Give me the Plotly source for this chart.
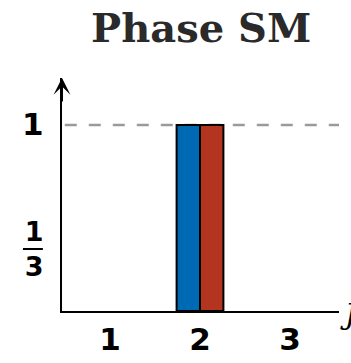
import plotly.graph_objects as go

# Occupation probabilities per level for the two components
levels = [1, 2, 3]
blue_vals = [0, 1, 0]
red_vals = [0, 1, 0]
ytick_vals = [1 / 3, 1]
ytick_text = ["<b>1</b><br><b>3</b>", "<b><span style='font-size:31px'>1</span></b>"]
xtick_text = ["<b>1</b>", "<b>2</b>", "<b>3</b>"]
title_text = "<b>Phase SM</b>"
x_label = "<i>J</i>"

y_top = 1.253


def outline(vals):
    # only outline bars that have height
    return [2 if v else 0 for v in vals]


fig = go.Figure()
fig.add_trace(go.Bar(
    x=levels, y=blue_vals,
    marker=dict(color="#0069B4", line=dict(color="black", width=outline(blue_vals))),
    showlegend=False,
))
fig.add_trace(go.Bar(
    x=levels, y=red_vals,
    marker=dict(color="#B3341F", line=dict(color="black", width=outline(red_vals))),
    showlegend=False,
))

# dashed reference level at 1
fig.add_shape(type="line", xref="paper", x0=0.01, x1=1, yref="y", y0=1, y1=1,
              line=dict(color="#9a9a9a", width=2.5, dash="12px,12px"), layer="below")
# fraction bar for the 1/3 tick
fig.add_shape(type="line", xref="paper", x0=-0.141, x1=-0.069, yref="y",
              y0=1 / 3, y1=1 / 3, line=dict(color="black", width=2))

# arrowhead on the vertical axis
fig.add_annotation(x=0, xref="paper", y=y_top, yref="y", text="", showarrow=True,
                   ax=0, ay=25, axref="pixel", ayref="pixel",
                   arrowhead=3, arrowsize=1.4, arrowwidth=2, arrowcolor="black")
# horizontal axis label
fig.add_annotation(x=1, xref="paper", y=0, yref="y", text=x_label, showarrow=False,
                   xanchor="left", yanchor="top", xshift=-1, yshift=15,
                   font=dict(family="DejaVu Serif", size=28, color="black"))

fig.update_layout(
    width=351, height=363,
    margin=dict(l=62, r=12, t=78, b=52, autoexpand=False),
    paper_bgcolor="white", plot_bgcolor="white",
    barmode="group", bargap=0.48, bargroupgap=0,
    title=dict(text=title_text, x=0.573, xanchor="center", y=0.962, yanchor="top",
               font=dict(family="DejaVu Serif", size=40, color="#2a2a2a")),
    xaxis=dict(range=[0.467, 3.544], tickvals=levels, ticktext=xtick_text,
               showgrid=False, zeroline=False, showline=True, linecolor="black",
               linewidth=2, ticks="", automargin=False,
               tickfont=dict(family="DejaVu Sans", size=31, color="black")),
    yaxis=dict(range=[0, y_top], tickvals=ytick_vals, ticktext=ytick_text,
               showgrid=False, zeroline=False, showline=True, linecolor="black",
               linewidth=2, ticks="", ticklabelstandoff=11, automargin=False,
               tickfont=dict(family="DejaVu Sans", size=27, color="black")),
)

fig.write_html("out.html")
